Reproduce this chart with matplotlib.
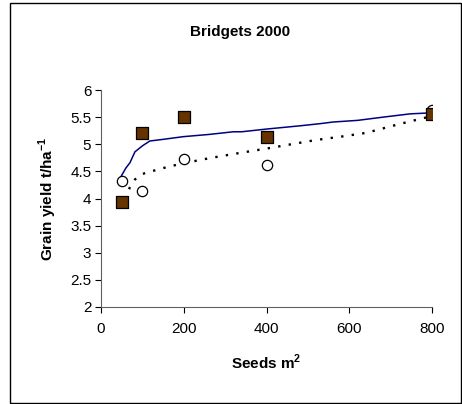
import matplotlib
matplotlib.use('Agg')
import matplotlib.pyplot as plt
from matplotlib.patches import Rectangle

plt.rcParams['font.family'] = ['Liberation Sans', 'DejaVu Sans']
plt.rcParams['mathtext.fontset'] = 'custom'
plt.rcParams['mathtext.rm'] = 'Liberation Sans'
plt.rcParams['mathtext.bf'] = 'Liberation Sans:bold'

# data points
seeds = [50, 100, 200, 400, 800]
yield_sq = [3.93, 5.20, 5.50, 5.14, 5.55]
yield_circ = [4.32, 4.13, 4.72, 4.62, 5.63]

# fitted curves
fit_x_solid = [48, 60, 70, 82, 100, 118, 150, 199, 260, 320, 340, 400, 481, 530, 561, 620, 682, 747, 800]
fit_y_solid = [4.40, 4.56, 4.66, 4.86, 4.97, 5.06, 5.09, 5.14, 5.18, 5.23, 5.23, 5.28, 5.34, 5.38, 5.41, 5.44, 5.50, 5.56, 5.58]
fit_x_dot = [58, 70, 82, 94, 110, 126, 160, 199, 260, 320, 400, 460, 521, 580, 641, 720, 800]
fit_y_dot = [3.99, 4.21, 4.35, 4.43, 4.48, 4.51, 4.58, 4.65, 4.74, 4.82, 4.92, 5.00, 5.08, 5.14, 5.21, 5.37, 5.52]

fig = plt.figure(figsize=(4.62, 4.04), dpi=100)
fig.patches.append(Rectangle((10 / 462, 0.002), 451 / 462, 1 - 3 / 404 - 0.002,
                             transform=fig.transFigure, fill=False,
                             edgecolor='black', linewidth=1.0))
ax = fig.add_axes([101 / 462, 1 - 307 / 404, 331 / 462, 217 / 404])

ax.plot(fit_x_solid, fit_y_solid, color='#000080', linewidth=1.1, zorder=2)
ax.plot(fit_x_dot, fit_y_dot, color='black', linewidth=1.7, linestyle=(0, (1, 3.5)), zorder=2)
ax.scatter(seeds, yield_circ, marker='o', s=55, facecolor='white', edgecolor='black', linewidth=0.9, zorder=3)
ax.scatter(seeds, yield_sq, marker='s', s=70, facecolor='#663300', edgecolor='black', linewidth=0.9, zorder=4)

ax.set_xlim(0, 800)
ax.set_ylim(2, 6)
ax.set_xticks([0, 200, 400, 600, 800])
ax.set_yticks([2, 2.5, 3, 3.5, 4, 4.5, 5, 5.5, 6])
ax.set_yticklabels(['2', '2.5', '3', '3.5', '4', '4.5', '5', '5.5', '6'])
ax.tick_params(direction='out', length=4, width=0.8, labelsize=11)
ax.tick_params(axis='x', pad=7)
ax.tick_params(axis='y', pad=3)
ax.spines['top'].set_visible(False)
ax.spines['right'].set_visible(False)
ax.spines['left'].set_color('#606060')
ax.spines['bottom'].set_color('#606060')

ax.set_xlabel(r'Seeds m$^{\mathbf{2}}$', fontsize=11, fontweight='bold', labelpad=12)
ax.set_ylabel(r'Grain yield t/ha$^{\mathbf{-1}}$', fontsize=11, fontweight='bold', labelpad=8)
fig.text(240 / 462, 1 - 32 / 404, 'Bridgets 2000', ha='center', va='center',
         fontsize=11, fontweight='bold')

plt.savefig('out.png', dpi=100)
